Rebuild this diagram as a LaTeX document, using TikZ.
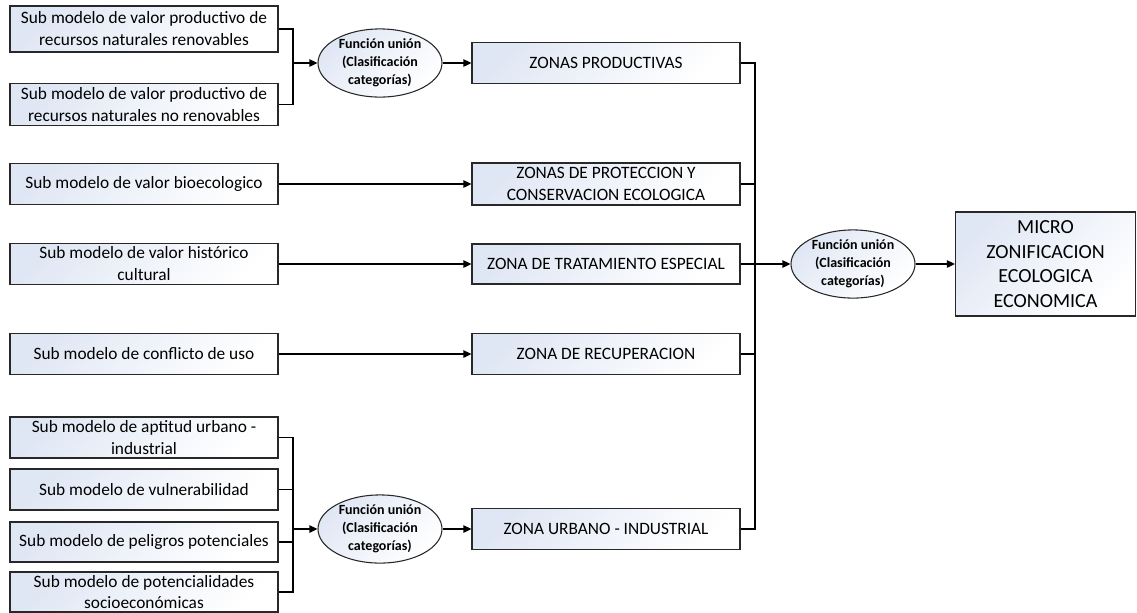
\documentclass[tikz,border=0pt]{standalone}
\usepackage{fontspec}
\setmainfont{Carlito}
\usetikzlibrary{arrows.meta,shapes.geometric}
\definecolor{boxtint}{RGB}{224,231,244}
\definecolor{edgegray}{RGB}{40,40,40}
\begin{document}
\begin{tikzpicture}[x=0.75pt,y=-0.75pt,
  line width=0.8pt,
  panel/.style={draw=edgegray, line width=0.8pt, rectangle, inner sep=1pt, align=center,
    shading=axis, top color=boxtint, bottom color=white, shading angle=45,
    font=\fontsize{13}{16.5}\selectfont},
  leftbox/.style={panel, minimum width=201pt, minimum height=30.75pt},
  zonebox/.style={panel, minimum width=201pt, minimum height=30.75pt},
  joinnode/.style={draw=edgegray, line width=0.8pt, ellipse, inner sep=0pt, align=center,
    shading=axis, top color=boxtint, bottom color=white, shading angle=45,
    minimum width=93pt, minimum height=45.75pt,
    font=\fontsize{10.5}{13.5}\selectfont\bfseries},
  link/.style={draw=black, line width=1pt},
  arr/.style={link, -{Triangle[length=6pt,width=5.5pt]}}
]
\useasboundingbox (0,0) rectangle (1137,612);

% source sub-models
\node[leftbox, minimum height=34.5pt] (L1) at (144,29) {Sub modelo de valor productivo de\\recursos naturales renovables};
\node[leftbox, minimum height=31.5pt] (L2) at (144,104.5) {Sub modelo de valor productivo de\\recursos naturales no renovables};
\node[leftbox] (L3) at (144,184) {Sub modelo de valor bioecologico};
\node[leftbox] (L4) at (144,264) {Sub modelo de valor histórico\\cultural};
\node[leftbox] (L5) at (144,354) {Sub modelo de conflicto de uso};
\node[leftbox] (LA) at (144,437.5) {Sub modelo de aptitud urbano -\\industrial};
\node[leftbox] (LB) at (144,489.5) {Sub modelo de vulnerabilidad};
\node[leftbox, minimum height=30pt] (LC) at (144,542) {Sub modelo de peligros potenciales};
\node[leftbox, minimum height=30pt, font=\fontsize{13}{15.5}\selectfont] (LD) at (144,592) {Sub modelo de potencialidades\\socioeconómicas};

% union functions
\node[joinnode] (E1) at (380,63) {Función unión\\(Clasificación\\categorías)};
\node[joinnode, minimum height=45pt] (E3) at (380,529) {Función unión\\(Clasificación\\categorías)};
\node[joinnode, minimum height=49.5pt] (E2) at (853,264) {Función unión\\(Clasificación\\categorías)};

% zones
\node[zonebox] (Z1) at (606,63) {ZONAS PRODUCTIVAS};
\node[zonebox, minimum height=31.5pt] (Z2) at (606,184) {ZONAS DE PROTECCION Y\\CONSERVACION ECOLOGICA};
\node[zonebox, minimum height=30pt] (Z3) at (606,264) {ZONA DE TRATAMIENTO ESPECIAL};
\node[zonebox] (Z4) at (606,354) {ZONA DE RECUPERACION};
\node[zonebox] (Z5) at (606,529) {ZONA URBANO - INDUSTRIAL};

% final result
\node[panel, minimum width=135pt, minimum height=78pt, font=\fontsize{15}{18.5}\selectfont] (M) at (1045.5,264) {MICRO\\ZONIFICACION\\ECOLOGICA\\ECONOMICA};

% junction points
\coordinate (j1) at (293,63);
\coordinate (j3) at (293,529);
\coordinate (bt) at (755,63);
\coordinate (bb) at (755,529);

% top group
\draw[link] (L1.east) -| (j1);
\draw[link] (L2.east) -| (j1);
\draw[arr] (j1) -- (E1.west);
\draw[arr] (E1.east) -- (Z1.west);

% single sources
\draw[arr] (L3.east) -- (Z2.west);
\draw[arr] (L4.east) -- (Z3.west);
\draw[arr] (L5.east) -- (Z4.west);

% bottom group
\draw[link] (LA.east) -| (j3);
\draw[link] (LB.east) -| (j3);
\draw[link] (LC.east) -| (j3);
\draw[link] (LD.east) -| (j3);
\draw[arr] (j3) -- (E3.west);
\draw[arr] (E3.east) -- (Z5.west);

% collector bus
\draw[link] (Z1.east) -- (bt) -- (bb) -- (Z5.east);
\draw[link] (Z2.east) -- (Z2.east -| bt);
\draw[link] (Z4.east) -- (Z4.east -| bt);
\draw[arr] (Z3.east) -- (E2.west);
\draw[arr] (E2.east) -- (M.west);
\end{tikzpicture}
\end{document}
